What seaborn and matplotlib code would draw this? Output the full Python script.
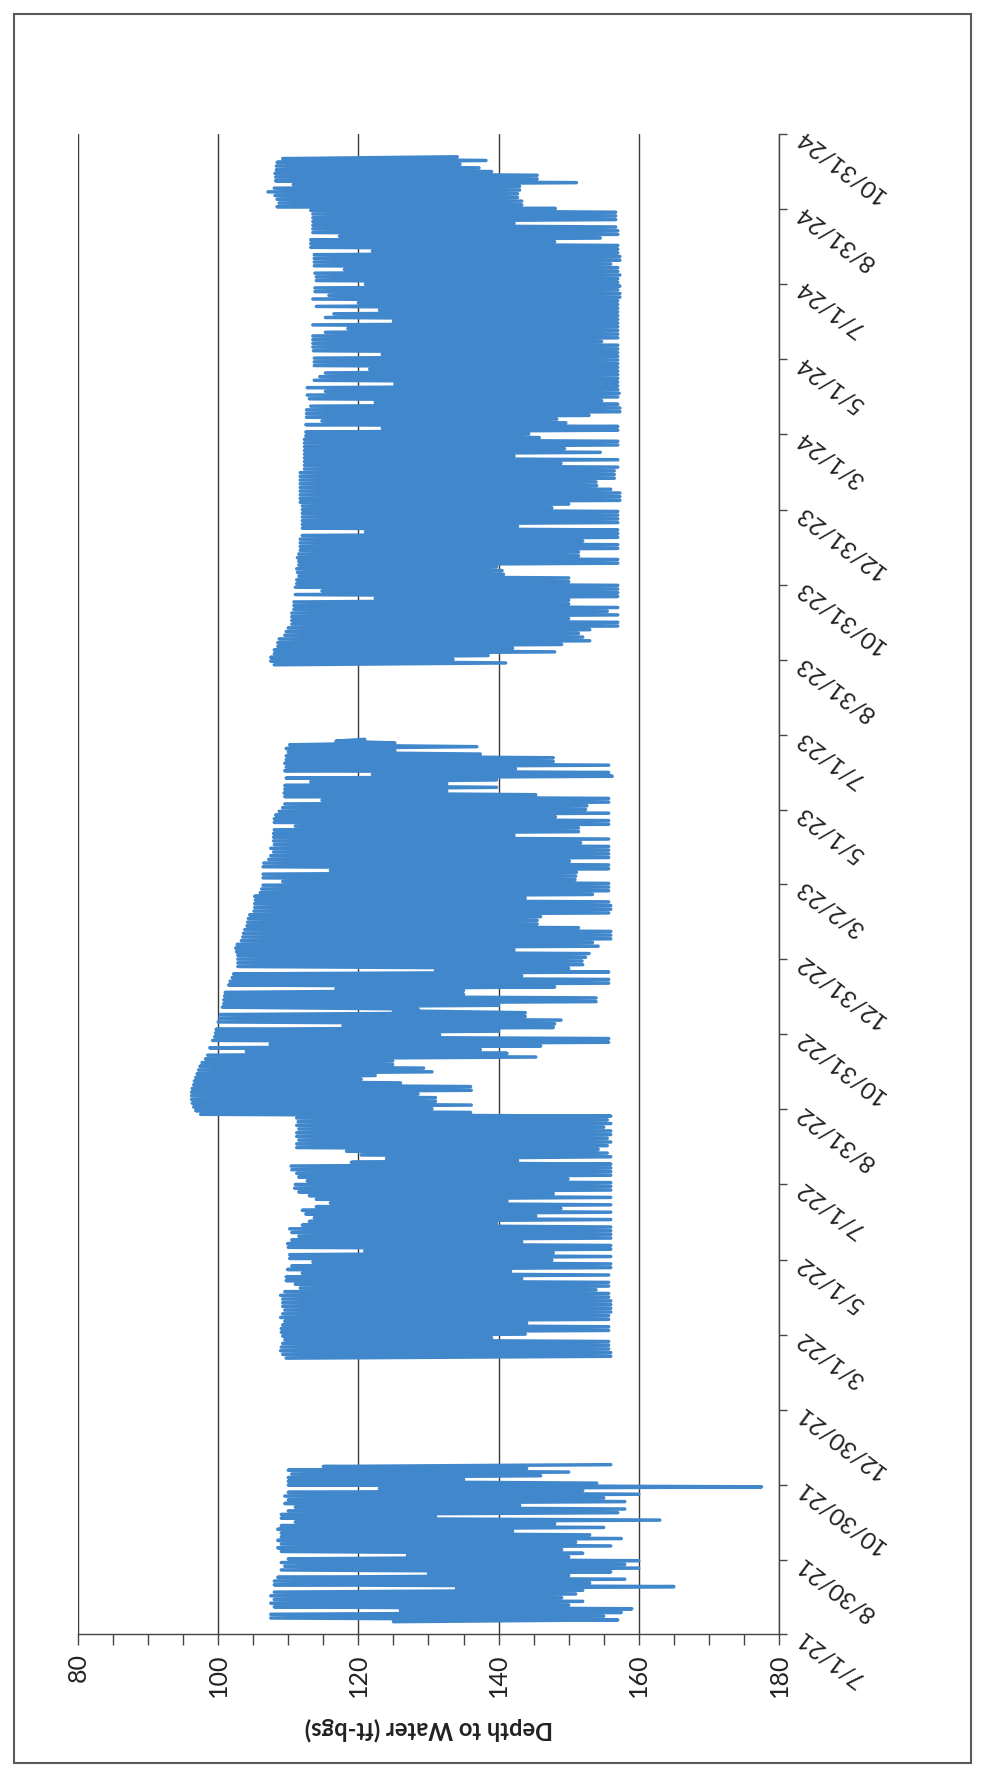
import numpy as np
import pandas as pd
import matplotlib
matplotlib.use("Agg")
import matplotlib.pyplot as plt
import seaborn as sns
from matplotlib.ticker import MultipleLocator
from matplotlib.patches import Rectangle

# ---------------- data ----------------
date_tick_labels = ["7/1/21", "8/30/21", "10/30/21", "12/30/21", "3/1/22", "5/1/22",
                    "7/1/22", "8/31/22", "10/31/22", "12/31/22", "3/2/23", "5/1/23",
                    "7/1/23", "8/31/23", "10/31/23", "12/31/23", "3/1/24", "5/1/24",
                    "7/1/24", "8/31/24", "10/31/24"]
depth_ticks = [80, 100, 120, 140, 160, 180]

sample_step_days = 3  # one shallow/deep reading pair every 3 days

# Record 1: Jul - Nov 2021
seg1_start = "2021-07-11"
seg1_shallow = [125, 107.5, 107.5, 126, 108, 107.5, 108, 107.5, 108, 134, 108, 108, 108.5, 130,
                109, 109.5, 109, 110, 127, 109, 108.5, 109, 108.5, 109, 109, 108.5, 109, 111,
                109, 109, 110, 111, 109.5, 110, 109.5, 110, 123, 110, 110, 110, 110.5, 110, 115]
seg1_deep = [157, 155, 157.5, 159, 150, 152, 149, 151, 152, 165, 153, 158, 150, 156, 160, 158,
             160, 150, 152, 149, 156, 151, 157.5, 153, 142, 155, 148, 163, 131, 157, 158, 143,
             158, 155, 160, 152, 177.5, 154, 135, 146, 150, 144, 156]

# Record 2: Feb 2022 - Jun 2023
seg2_start = "2022-02-10"
seg2_shallow = [109.7, 109.2, 108.9, 109, 109.2, 109.5, 109.2, 109, 109, 109.2,
                109.5, 108.9, 109.2, 109.5, 109.2, 109.2, 109.2, 108.9, 109.5, 111.7,
                111, 109.7, 109.7, 112, 109.9, 110.5, 113.5, 110.2, 110.2, 120.9,
                110, 109.9, 110.5, 111.5, 110.5, 110.2, 112, 113, 113.7, 112.5,
                112, 114, 116, 114, 113, 111.5, 110.9, 111, 112.7, 111.5,
                111.2, 110.5, 110.4, 119, 124, 120.4, 118.3,
                111.2, 111.2, 111.5, 111.2, 111.2, 111.5, 111.2, 111.4, 111.2,
                97.5, 96.8, 96.5, 96.3, 96.2, 96.2, 96.2, 96.3, 96.5, 96.6,
                96.8, 97, 97.2, 97.4, 97.7, 98.2, 98.5, 104, 98.8, 107.4,
                99.2, 99.5, 99.6, 99.7, 117.8, 100, 100.2, 100.3, 125, 100.6,
                100.8, 100.8, 100.9, 101, 116.8, 101.5, 101.7,
                102, 102.2, 131, 102.8, 102.8, 102.8, 102.8, 102.6, 102.5, 102.7,
                103.3, 103.5, 103.6, 103.8, 104.1, 104.2, 104.3, 104.5, 105.1, 105.2,
                105.2, 105.3, 105.2, 106, 106.2, 106.4, 109.2, 106.4, 106.4, 116,
                106.4, 106.5, 107.2, 107.5, 107.9, 107.5, 108, 107.9, 107.9, 107.9,
                108, 111, 108, 108, 108.2, 108.7,
                109.2, 109.5, 114.8, 109.5, 109.4, 109.5, 109.5, 113.2, 109.7, 122,
                109.5, 109.7, 109.5, 109.7, 109.7, 110, 109.7, 110.2, 116.8]
seg2_deep = [156, 156, 155.7, 155.7, 155.7, 139, 143.8, 155.7, 155.7, 144,
             155.7, 155.7, 156, 156, 156, 156, 155.7, 155.7, 153.9, 155.7,
             155.7, 143.3, 155.7, 141.7, 156, 156, 147.6, 156, 147.8, 156,
             156, 143.3, 156, 156, 156, 156, 139.7, 156, 145.3, 156,
             148.9, 156, 141.2, 156, 147.8, 156, 156, 156, 149.9, 156,
             156, 156, 156, 142.7, 156, 155.5, 154.2,
             155.5, 156, 155.5, 156, 156, 155, 156, 155.5, 156,
             136, 130.5, 136.1, 131, 131, 128.5, 136.1, 136, 126, 120.4,
             122.4, 130.5, 129.3, 124.9, 124.9, 145.3, 141.2, 137.4, 146, 155.7,
             155.7, 131.6, 140, 147.8, 148, 148.9, 143.8, 143.8, 128.5, 140,
             153.9, 153.9, 135, 135, 148, 155.7, 155.7,
             143.3, 155.7, 150, 152, 151.9, 152.4, 152.9, 142.2, 154.2, 153.4,
             156, 156, 156, 151.4, 145.5, 145.5, 146, 155.7, 156, 156,
             155.7, 143.8, 153.4, 155.7, 155.7, 155.7, 150.9, 151, 151.1, 155.7,
             155.7, 150.1, 155.7, 155.7, 155.7, 155.7, 151.7, 155.7, 142.2, 151.4,
             151.4, 155.7, 155.7, 148.1, 155.7, 152.4,
             152.6, 155.7, 155.7, 145.3, 132.6, 139.7, 132.6, 139.7, 156.2, 155.7,
             142.4, 155.7, 147.8, 147.8, 137.4, 125.2, 136.9, 125.2, 120.9]

# Record 3: Aug 2023 - Oct 2024
seg3_start = "2023-08-27"
seg3_shallow = [108, 107.5, 107.5, 108, 108, 108.5, 108.5, 108.7, 109.5, 109.7,
                110, 110.5, 110.5, 110.5, 110.5, 110.8, 110.8, 110.8, 122.4, 111,
                114.8, 111, 111.2, 111.2, 111.5, 111.3, 111.2, 111.5, 111.5, 111.3,
                111.5, 111.7, 111.7, 111.7, 111.7, 112, 121, 112, 112, 112,
                112, 112, 112, 112, 111.7, 111.7, 111.7, 111.7, 111.7, 111.7,
                111.7, 111.7, 111.7, 112.3, 112.3, 112.3, 112.3, 112.3, 112.3, 112.3,
                112.3, 112.3, 112.5, 112.5, 123.4, 112.5, 114.8, 112.6, 112.6, 112.6,
                113.2, 122.4, 113, 112.7, 115.3, 112.7, 125.2, 113.7, 114.5, 115.3,
                121.6, 113.7, 113.7, 113.7, 123.4, 113.6, 113.5, 113.5, 113.5, 113.5,
                115.3, 118.5, 113.5, 125, 115.3, 116.5, 123, 114, 120, 113.5,
                115.8, 113.8, 113.8, 121, 114, 114, 113.8, 118, 113.7, 113.7,
                113.7, 113.7, 122, 113.2, 113.2, 113.2, 117.3, 113.5, 113.5, 113.5,
                113.5, 113.5, 113.5, 113.2, 108.4, 108.7, 108.4, 108.1, 107.1, 108,
                110.7, 108.2, 108.2, 108.1, 108.3, 108.3, 108.4, 109.2]
seg3_deep = [141, 133.5, 138.5, 148, 142, 149, 153, 152, 151.4, 153,
             157, 157, 150, 157, 155.5, 157, 150, 150, 157, 157,
             157, 157, 150, 150, 140.7, 140.5, 139.7, 157, 157, 151.4,
             151.4, 157, 157, 152, 157, 157, 157, 142.7, 157, 157,
             157, 157, 147.6, 150, 157.3, 157.3, 157.3, 156, 154, 153.9,
             156.5, 156.5, 156.5, 157, 148.9, 157, 142.2, 154.5, 149.4, 157,
             157, 145.8, 144.3, 157, 157, 149.6, 148.3, 152.9, 157.3, 157.3,
             157, 154.7, 157, 157.2, 157, 157, 157, 157, 157, 157,
             157, 157, 157, 157, 157, 157, 157, 154.7, 157, 157,
             157, 157, 157, 157, 157, 157, 157, 157, 157, 157.3,
             157.3, 157, 157.3, 157, 157, 157.3, 157, 157, 156, 157.3,
             157.3, 157, 157, 157, 148, 154.5, 157, 157, 156.7, 142.2,
             156.7, 156.7, 156.7, 148.1, 143.3, 143.3, 142.7, 142.7, 143, 143,
             151.1, 145.5, 145.5, 139, 137.2, 134.5, 138.2, 134.1]

segments = [
    ("2021", seg1_start, seg1_shallow, seg1_deep),
    ("2022", seg2_start, seg2_shallow, seg2_deep),
    ("2023", seg3_start, seg3_shallow, seg3_deep),
]


def build_frame(name, start, shallow, deep):
    dates = pd.date_range(start, periods=len(shallow), freq=f"{sample_step_days}D")
    half = pd.Timedelta(hours=12 * sample_step_days)
    rows = []
    for d, s, p in zip(dates, shallow, deep):
        rows.append((d, s, name))
        rows.append((d + half, p, name))
    return pd.DataFrame(rows, columns=["date", "depth", "record"])


frames = [build_frame(*seg) for seg in segments]

# ---------------- styling ----------------
sns.set_style("white")
plt.rcParams["font.family"] = ["Lato", "DejaVu Sans"]

W, H = 981, 1776
fig = plt.figure(figsize=(W / 100, H / 100), dpi=100)
left_px, right_px, top_px, bottom_px = 78, 779, 134, 1634
ax = fig.add_axes([left_px / W, 1 - bottom_px / H,
                   (right_px - left_px) / W, (bottom_px - top_px) / H])

line_color = "#4187cc"
for fr in frames:
    sns.lineplot(data=fr, x="depth", y="date", orient="y", sort=False,
                 estimator=None, color=line_color, lw=2.5, ax=ax)

ax.set_xlim(80, 180)
tick_dates = pd.to_datetime(date_tick_labels, format="%m/%d/%y")
ax.set_ylim(tick_dates[0], tick_dates[-1])

# depth axis (bottom)
ax.set_xticks(depth_ticks)
ax.set_xticklabels([str(v) for v in depth_ticks], rotation=90, fontsize=18)
ax.xaxis.set_minor_locator(MultipleLocator(5))
ax.tick_params(axis="x", which="both", direction="out", length=8, width=1.0,
               color="#444444", bottom=True, top=False, pad=6, labelcolor="#222222")
ax.grid(False)
ax.xaxis.grid(True, which="major", color="#3a3a3a", lw=1.0)

# date axis (right)
ax.yaxis.tick_right()
ax.set_yticks(tick_dates)
ax.set_yticklabels(date_tick_labels, fontsize=17.5, color="#222222")
ax.tick_params(axis="y", which="major", direction="out", length=6, width=1.0,
               color="#444444", right=True, left=False, pad=8)
for lab in ax.get_yticklabels():
    lab.set_rotation(143)
    lab.set_rotation_mode("anchor")
    lab.set_horizontalalignment("right")
    lab.set_verticalalignment("center")

ax.set_xlabel("Depth to Water (ft-bgs)", rotation=180, fontweight="bold",
              fontsize=17, labelpad=14, color="#222222")
ax.set_ylabel("")

for side in ["top", "left"]:
    ax.spines[side].set_visible(False)
for side in ["bottom", "right"]:
    ax.spines[side].set_visible(True)
    ax.spines[side].set_color("#444444")
    ax.spines[side].set_linewidth(1.0)

legend = ax.get_legend()
if legend is not None:
    legend.remove()

# outer chart border
fig.add_artist(Rectangle((14 / W, 1 - 1763 / H), (971 - 14) / W, (1763 - 14) / H,
                         transform=fig.transFigure, fill=False,
                         edgecolor="#5a5a5a", lw=1.5))

fig.savefig("out.png", dpi=100, facecolor="white")
